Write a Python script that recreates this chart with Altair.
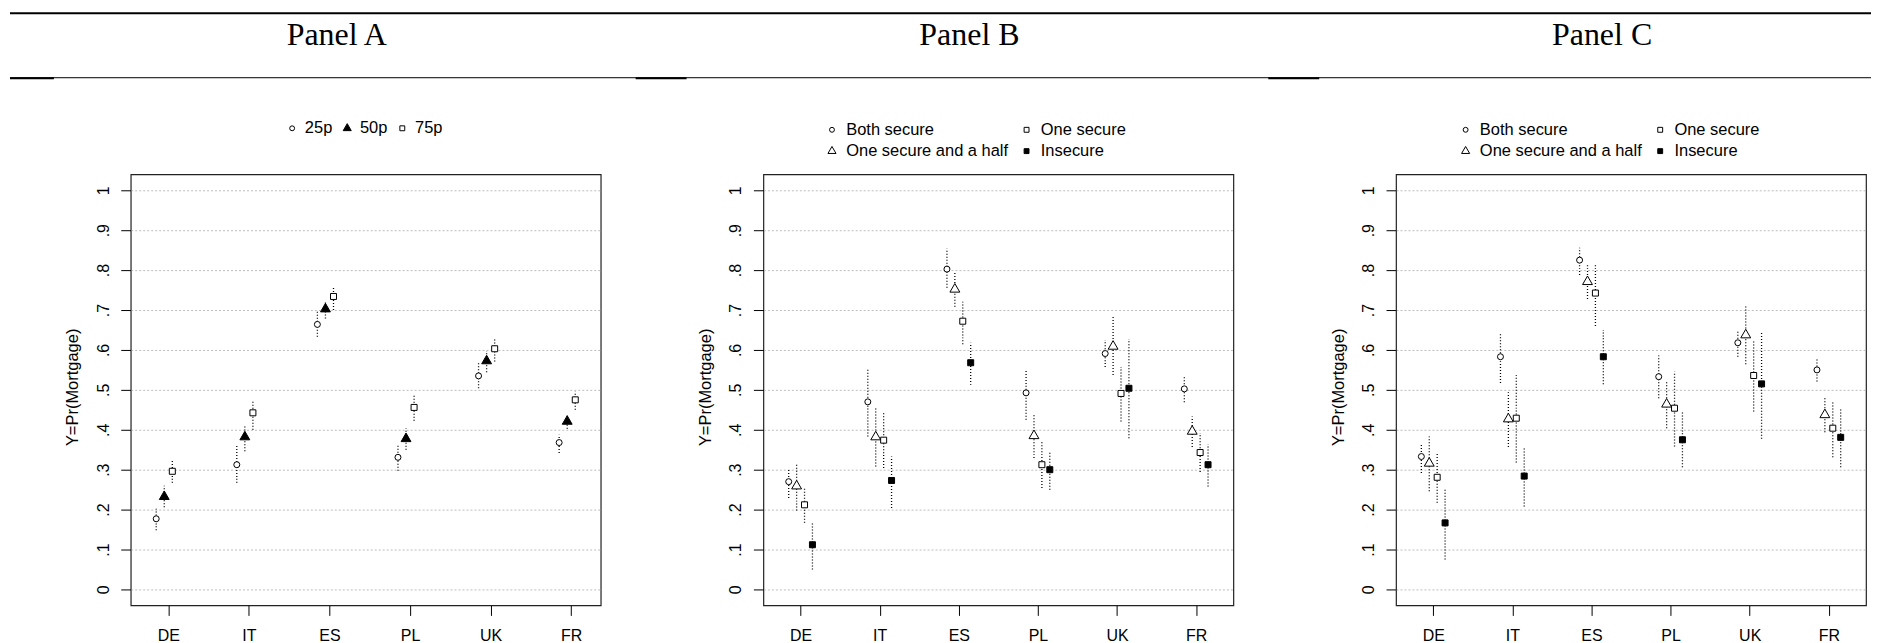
import json
import altair as alt
import pandas as pd

# ---------------- data ----------------
countries = ["DE", "IT", "ES", "PL", "UK", "FR"]
ytick_values = [0, 0.1, 0.2, 0.3, 0.4, 0.5, 0.6, 0.7, 0.8, 0.9, 1.0]
ytick_labels = ["0", ".1", ".2", ".3", ".4", ".5", ".6", ".7", ".8", ".9", "1"]
panel_titles = ["Panel A", "Panel B", "Panel C"]
y_title = "Y=Pr(Mortgage)"

# Panel A : percentiles
a_series = ["25p", "50p", "75p"]
a_p25_est = [0.177, 0.3125, 0.664, 0.331, 0.535, 0.368]
a_p25_lo = [0.148, 0.267, 0.633, 0.2975, 0.504, 0.342]
a_p25_hi = [0.202, 0.3625, 0.6975, 0.3625, 0.567, 0.3875]
a_p50_est = [0.2325, 0.382, 0.7025, 0.3775, 0.5725, 0.421]
a_p50_lo = [0.206, 0.346, 0.679, 0.35, 0.544, 0.4025]
a_p50_hi = [0.26, 0.41, 0.723, 0.404, 0.5975, 0.4375]
a_p75_est = [0.296, 0.4425, 0.734, 0.456, 0.603, 0.475]
a_p75_lo = [0.267, 0.40, 0.70, 0.4225, 0.571, 0.45]
a_p75_hi = [0.322, 0.475, 0.758, 0.4875, 0.6275, 0.496]

# Panels B and C : job security of the couple
bc_series = ["Both secure", "One secure and a half", "One secure", "Insecure"]
b_both_est = [0.27, 0.47, 0.8025, 0.4925, 0.591, 0.5025]
b_both_lo = [0.229, 0.383, 0.756, 0.425, 0.557, 0.469]
b_both_hi = [0.304, 0.552, 0.854, 0.552, 0.625, 0.533]
b_half_est = [0.259, 0.382, 0.752, 0.385, 0.609, 0.396]
b_half_lo = [0.1975, 0.308, 0.708, 0.329, 0.5375, 0.357]
b_half_hi = [0.314, 0.456, 0.796, 0.4375, 0.683, 0.433]
b_one_est = [0.212, 0.374, 0.672, 0.3125, 0.491, 0.343]
b_one_lo = [0.167, 0.304, 0.614, 0.254, 0.421, 0.294]
b_one_hi = [0.254, 0.442, 0.721, 0.371, 0.557, 0.392]
b_ins_est = [0.112, 0.273, 0.568, 0.30, 0.504, 0.3125]
b_ins_lo = [0.05, 0.204, 0.5125, 0.25, 0.379, 0.258]
b_ins_hi = [0.167, 0.333, 0.618, 0.346, 0.6275, 0.364]

c_both_est = [0.333, 0.583, 0.825, 0.533, 0.618, 0.55]
c_both_lo = [0.292, 0.517, 0.7875, 0.479, 0.583, 0.521]
c_both_hi = [0.367, 0.643, 0.856, 0.586, 0.648, 0.5775]
c_half_est = [0.316, 0.427, 0.771, 0.464, 0.6375, 0.4375]
c_half_lo = [0.246, 0.357, 0.7275, 0.404, 0.564, 0.394]
c_half_hi = [0.383, 0.494, 0.814, 0.521, 0.711, 0.481]
c_one_est = [0.281, 0.429, 0.7425, 0.454, 0.536, 0.404]
c_one_lo = [0.217, 0.318, 0.66, 0.358, 0.446, 0.331]
c_one_hi = [0.344, 0.5375, 0.817, 0.546, 0.6225, 0.469]
c_ins_est = [0.1667, 0.284, 0.583, 0.375, 0.515, 0.381]
c_ins_lo = [0.075, 0.208, 0.514, 0.306, 0.3775, 0.306]
c_ins_hi = [0.25, 0.356, 0.65, 0.444, 0.646, 0.4525]

# ---------------- styling / layout ----------------
FONT = "Liberation Sans"
SERIF = "Liberation Serif"
TRI = "M0,-1.905L1.65,0.953L-1.65,0.953Z"  # R-style triangle (centroid-ish centre)
W, H = 471, 432
SPACING = 163
dodge_a = [-0.15, -0.05, 0.05]
dodge_bc = [-0.15, -0.05, 0.05, 0.15]


def build_df(series, groups, dodge):
    rows = []
    for s, (est, lo, hi), d in zip(series, groups, dodge):
        for i, c in enumerate(countries):
            rows.append({"country": c, "series": s, "xpos": i + 1 + d,
                         "est": est[i], "lo": lo[i], "hi": hi[i]})
    return pd.DataFrame(rows)


df_a = build_df(a_series, [(a_p25_est, a_p25_lo, a_p25_hi),
                           (a_p50_est, a_p50_lo, a_p50_hi),
                           (a_p75_est, a_p75_lo, a_p75_hi)], dodge_a)
df_b = build_df(bc_series, [(b_both_est, b_both_lo, b_both_hi),
                            (b_half_est, b_half_lo, b_half_hi),
                            (b_one_est, b_one_lo, b_one_hi),
                            (b_ins_est, b_ins_lo, b_ins_hi)], dodge_bc)
df_c = build_df(bc_series, [(c_both_est, c_both_lo, c_both_hi),
                            (c_half_est, c_half_lo, c_half_hi),
                            (c_one_est, c_one_lo, c_one_hi),
                            (c_ins_est, c_ins_lo, c_ins_hi)], dodge_bc)

x_label_expr = json.dumps(countries) + "[datum.value-1]"
y_label_expr = json.dumps(ytick_labels) + "[round(datum.value*10)]"


def panel(df, title, xdomain, legend_domain, legend_shapes, legend_fills,
          legend_cols, lx, ly, loff, cpad, extra=None):
    xs = alt.Scale(domain=xdomain, nice=False, zero=False)
    ys = alt.Scale(domain=[-0.04, 1.04], nice=False, zero=False)
    xaxis = alt.Axis(values=[1, 2, 3, 4, 5, 6], labelExpr=x_label_expr, title=None,
                     grid=False, domain=False, tickSize=10, labelPadding=12,
                     labelFontSize=16, labelFont=FONT, labelColor="black")
    yaxis = alt.Axis(values=ytick_values, labelExpr=y_label_expr, title=y_title,
                     grid=True, gridDash=[2, 2], gridColor="#bdbdbd", gridWidth=1,
                     domain=False, tickSize=10, labelAngle=270, labelAlign="center",
                     labelBaseline="middle", labelPadding=17.5, labelFontSize=16,
                     labelFont=FONT, labelColor="black",
                     titleFont=FONT, titleFontSize=16.5, titleFontWeight="normal",
                     titleColor="black", titleX=-53, titleY=213,
                     titleBaseline="alphabetic", titleAngle=270)
    leg = alt.Legend(title=None, orient="none", legendX=lx, legendY=ly,
                     direction="horizontal", columns=legend_cols, padding=0,
                     labelFont=FONT, labelFontSize=16.5, labelColor="black",
                     labelLimit=0, labelOffset=loff, columnPadding=cpad, rowPadding=4.5,
                     symbolSize=24, symbolStrokeColor="black", symbolStrokeWidth=1)
    base = alt.Chart(df)
    bars = base.mark_rule(color="black", strokeWidth=1.3, strokeDash=[1, 2]).encode(
        x=alt.X("xpos:Q", scale=xs, axis=xaxis),
        y=alt.Y("lo:Q", scale=ys, axis=yaxis),
        y2="hi:Q",
    )
    n = len(legend_domain)
    pts = base.mark_point(size=36, filled=False, strokeWidth=1, opacity=1).encode(
        x=alt.X("xpos:Q", scale=xs),
        y=alt.Y("est:Q", scale=ys),
        shape=alt.Shape("series:N", scale=alt.Scale(domain=legend_domain, range=legend_shapes), legend=leg),
        fill=alt.Fill("series:N", scale=alt.Scale(domain=legend_domain, range=legend_fills), legend=leg),
        stroke=alt.Stroke("series:N", scale=alt.Scale(domain=legend_domain, range=["black"] * n), legend=leg),
    )
    ttl = alt.Chart(pd.DataFrame({"t": [title]})).mark_text(
        font=SERIF, fontSize=32, align="center", baseline="alphabetic", color="black"
    ).encode(x=alt.value(206.5), y=alt.value(-129.8), text="t:N")
    layers = [bars, pts, ttl]
    if extra:
        layers += extra
    return alt.layer(*layers).properties(width=W, height=H)


one = pd.DataFrame({"k": [0]})
decor = [
    # invisible anchor for the page origin
    alt.Chart(one).mark_rule(color="white", strokeWidth=0.5).encode(
        x=alt.value(-121), x2=alt.value(-120), y=alt.value(-164.5)),
    # top rule of the table
    alt.Chart(one).mark_rule(color="black", strokeWidth=2).encode(
        x=alt.value(-121), x2=alt.value(1744), y=alt.value(-161.5)),
    # rule under the panel headers
    alt.Chart(one).mark_rule(color="black", strokeWidth=1).encode(
        x=alt.value(-121), x2=alt.value(1744), y=alt.value(-96.8)),
    alt.Chart(one).mark_rule(color="black", strokeWidth=2).encode(
        x=alt.value(-121), x2=alt.value(-77), y=alt.value(-96.3)),
    alt.Chart(one).mark_rule(color="black", strokeWidth=2).encode(
        x=alt.value(506), x2=alt.value(557), y=alt.value(-96.3)),
    alt.Chart(one).mark_rule(color="black", strokeWidth=2).encode(
        x=alt.value(1140), x2=alt.value(1191), y=alt.value(-96.3)),
]

pa = panel(df_a, panel_titles[0], [0.534, 6.366], a_series,
           ["circle", TRI, "square"], ["white", "black", "white"],
           3, 153.5, -54.5, 4.5, 6.2, extra=decor)

bc_legend_order = ["Both secure", "One secure", "One secure and a half", "Insecure"]
bc_shapes = ["circle", "square", TRI, "square"]
bc_fills = ["white", "white", "white", "black"]

pb = panel(df_b, panel_titles[1], [0.53, 6.47], bc_legend_order, bc_shapes, bc_fills,
           2, 60.5, -53, 6, 10)
pc = panel(df_c, panel_titles[2], [0.53, 6.47], bc_legend_order, bc_shapes, bc_fills,
           2, 61.5, -53, 6, 10)

chart = alt.hconcat(pa, pb, pc, spacing=SPACING, bounds="flush").resolve_scale(
    shape="independent", fill="independent", stroke="independent",
    x="independent", y="independent"
).resolve_legend(shape="independent", fill="independent", stroke="independent").properties(
    padding=0, background="white"
).configure_view(stroke="#222", strokeWidth=1.2).configure_axis(
    tickColor="black", tickWidth=1
)

chart.save("out.html", embed_options={"renderer": "svg", "actions": False})
